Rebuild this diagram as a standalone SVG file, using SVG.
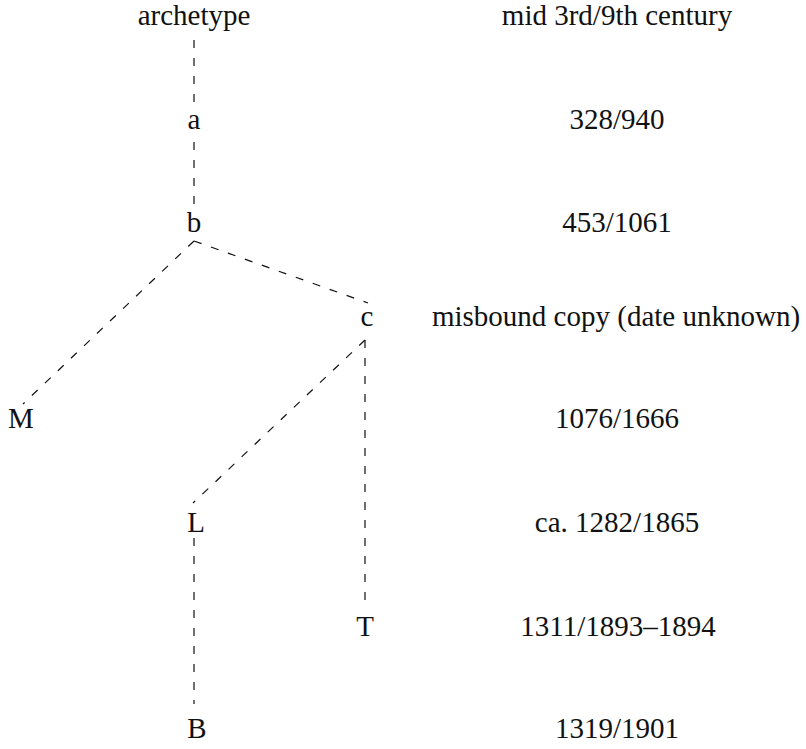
<svg xmlns="http://www.w3.org/2000/svg" width="806" height="749" viewBox="0 0 806 749">
<style>
text{font-family:"Liberation Serif","Times New Roman",serif;font-size:29px;fill:#111;text-anchor:middle}
.c line{stroke:#111;stroke-width:1.2;stroke-dasharray:8 10;fill:none}
</style>
<rect width="806" height="749" fill="#fff"/>
<g class="c" id="connectors">
<line x1="194" y1="40" x2="194" y2="104"/>
<line x1="194" y1="142" x2="194" y2="206"/>
<line x1="194" y1="241" x2="368" y2="303"/>
<line x1="194" y1="241" x2="23" y2="404"/>
<line x1="365" y1="340" x2="193" y2="503"/>
<line x1="365" y1="340" x2="365" y2="604"/>
<line x1="194" y1="538" x2="194" y2="704"/>
</g>
<g id="archetype"><text x="194" y="25">archetype</text></g>
<g id="a"><text x="194" y="129">a</text></g>
<g id="b"><text x="194" y="232">b</text></g>
<g id="c"><text x="367" y="326">c</text></g>
<g id="M"><text x="21" y="428">M</text></g>
<g id="L"><text x="196" y="532">L</text></g>
<g id="T"><text x="365" y="636">T</text></g>
<g id="B"><text x="197" y="738">B</text></g>
<g id="dates">
<text x="617" y="25">mid 3rd/9th century</text>
<text x="617" y="129">328/940</text>
<text x="617" y="232">453/1061</text>
<text x="616" y="326">misbound copy (date unknown)</text>
<text x="617" y="428">1076/1666</text>
<text x="617" y="532">ca. 1282/1865</text>
<text x="618" y="636">1311/1893–1894</text>
<text x="617" y="738">1319/1901</text>
</g>
</svg>
